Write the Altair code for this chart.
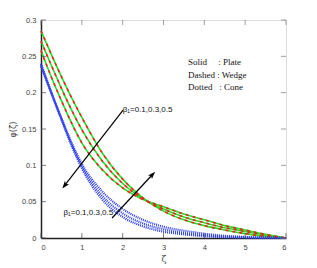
import altair as alt
import pandas as pd

# ---- data ----
zeta = [0, 0.25, 0.5, 0.75, 1, 1.5, 2, 2.5, 3, 3.5, 4, 4.5, 5, 5.5, 6]

plate_b01 = [0.285, 0.253, 0.222, 0.193, 0.166, 0.117, 0.081, 0.055, 0.037, 0.025, 0.017, 0.011, 0.006, 0.002, 0.0]
plate_b03 = [0.271, 0.238, 0.206, 0.176, 0.149, 0.106, 0.075, 0.054, 0.040, 0.029, 0.021, 0.014, 0.009, 0.004, 0.0]
plate_b05 = [0.258, 0.222, 0.189, 0.158, 0.131, 0.094, 0.069, 0.053, 0.043, 0.033, 0.025, 0.017, 0.011, 0.005, 0.0]

wedge_b01 = [0.285, 0.253, 0.222, 0.193, 0.166, 0.117, 0.081, 0.055, 0.037, 0.025, 0.017, 0.011, 0.006, 0.002, 0.0]
wedge_b03 = [0.271, 0.238, 0.206, 0.176, 0.149, 0.106, 0.075, 0.054, 0.040, 0.029, 0.021, 0.014, 0.009, 0.004, 0.0]
wedge_b05 = [0.258, 0.222, 0.189, 0.158, 0.131, 0.094, 0.069, 0.053, 0.043, 0.033, 0.025, 0.017, 0.011, 0.005, 0.0]

cone_b01 = [0.240, 0.201, 0.163, 0.127, 0.096, 0.053, 0.029, 0.016, 0.0087, 0.005, 0.0025, 0.001, 0.0005, 0.0001, 0.0]
cone_b03 = [0.238, 0.200, 0.164, 0.129, 0.099, 0.058, 0.034, 0.020, 0.012, 0.007, 0.004, 0.002, 0.001, 0.0003, 0.0]
cone_b05 = [0.236, 0.200, 0.165, 0.131, 0.102, 0.064, 0.040, 0.025, 0.0155, 0.010, 0.006, 0.003, 0.0015, 0.0005, 0.0]

x_ticks = [0, 1, 2, 3, 4, 5, 6]
y_ticks = [0, 0.05, 0.1, 0.15, 0.2, 0.25, 0.3]

NB = "\u00a0"
legend_lines = ["Solid" + NB * 5 + ": Plate", "Dashed : Wedge", "Dotted" + NB * 3 + ": Cone"]
beta_label = "β₁=0.1,0.3,0.5"

# annotation anchors (data coordinates)
arrow_x = [2.01, 1.74]
arrow_y = [0.176, 0.0275]
arrow_x2 = [0.59, 2.72]
arrow_y2 = [0.073, 0.0867]
arrow_angle = [218, 43]
label_x = [2.0, 0.55]
label_y = [0.176, 0.035]
legend_x = 3.6
legend_y = [0.242, 0.225, 0.208]

# ---- build tables ----
rows = []
for kind, series in [("Plate", [plate_b01, plate_b03, plate_b05]),
                     ("Wedge", [wedge_b01, wedge_b03, wedge_b05]),
                     ("Cone", [cone_b01, cone_b03, cone_b05])]:
    for b, vals in zip(["0.1", "0.3", "0.5"], series):
        for z, v in zip(zeta, vals):
            rows.append({"zeta": z, "phi": v, "kind": kind, "beta": b})
df = pd.DataFrame(rows)

W, H = 245, 218
xs = alt.Scale(domain=[0, 6], nice=False, zero=False)
ys = alt.Scale(domain=[0, 0.3], nice=False)

axis_font = "Liberation Sans"

x_axis = alt.Axis(values=x_ticks, title="ζ", ticks=False, labelPadding=5,
                  labelFontSize=7.5, labelColor="#444", labelFont=axis_font,
                  labelOverlap=False,
                  titleFont="DejaVu Serif", titleFontSize=9, titleFontWeight="normal",
                  titleColor="#444", titlePadding=4, domainColor="#222", domainWidth=1.5,
                  grid=False, format="~g")
y_axis = alt.Axis(values=y_ticks, title="φ(ζ)", ticks=False, labelPadding=5,
                  labelFontSize=7.5, labelColor="#444", labelFont=axis_font,
                  labelOverlap=False,
                  titleFont="DejaVu Sans", titleFontSize=8, titleFontWeight="normal",
                  titleColor="#444", titlePadding=4, domainColor="#222", domainWidth=1.5,
                  grid=False, format="~g")


def X(f):
    return alt.X(f, scale=xs, axis=x_axis)


def Y(f):
    return alt.Y(f, scale=ys, axis=y_axis)


base = alt.Chart(df)

plate = base.transform_filter(alt.datum.kind == "Plate").mark_line(
    color="#22e022", strokeWidth=1.6, interpolate="monotone"
).encode(x=X("zeta:Q"), y=Y("phi:Q"), detail="beta:N")

wedge = base.transform_filter(alt.datum.kind == "Wedge").mark_line(
    color="#ee2222", strokeWidth=1.6, strokeDash=[3, 4], interpolate="monotone"
).encode(x=X("zeta:Q"), y=Y("phi:Q"), detail="beta:N")

cone = base.transform_filter(alt.datum.kind == "Cone").mark_line(
    color="#2a3cf0", strokeWidth=2.2, strokeDash=[1, 1], interpolate="monotone"
).encode(x=X("zeta:Q"), y=Y("phi:Q"), detail="beta:N")

# inward ticks
xt = pd.DataFrame({"t": x_ticks})
yt = pd.DataFrame({"t": y_ticks})
xt_bottom = alt.Chart(xt).mark_tick(color="#444", size=5, thickness=1).encode(
    x=X("t:Q"), y=alt.value(H - 2.5))
xt_top = alt.Chart(xt).mark_tick(color="#777", size=5, thickness=1).encode(
    x=X("t:Q"), y=alt.value(2.5))
yt_left = alt.Chart(yt).mark_tick(color="#444", size=5, thickness=1, orient="horizontal").encode(
    y=Y("t:Q"), x=alt.value(2.5))
yt_right = alt.Chart(yt).mark_tick(color="#777", size=5, thickness=1, orient="horizontal").encode(
    y=Y("t:Q"), x=alt.value(W - 2.5))

# arrows
adf = pd.DataFrame({"x": arrow_x, "y": arrow_y, "x2": arrow_x2, "y2": arrow_y2, "ang": arrow_angle})
shafts = alt.Chart(adf).mark_rule(color="black", strokeWidth=1.2).encode(
    x=X("x:Q"), y=Y("y:Q"), x2="x2:Q", y2="y2:Q")
heads = alt.Chart(adf).mark_point(
    shape="M0,-1 L0.6,0.7 L0,0.3 L-0.6,0.7 Z", filled=True, color="black", size=80, opacity=1
).encode(x=X("x2:Q"), y=Y("y2:Q"), angle=alt.Angle("ang:Q", scale=None))

ldf = pd.DataFrame({"x": label_x, "y": label_y, "t": [beta_label, beta_label]})
labels = alt.Chart(ldf).mark_text(align="left", baseline="middle", fontSize=8,
                                  font=axis_font, color="#111").encode(
    x=X("x:Q"), y=Y("y:Q"), text="t:N")

gdf = pd.DataFrame({"x": [legend_x] * 3, "y": legend_y, "t": legend_lines})
legend = alt.Chart(gdf).mark_text(align="left", baseline="middle", fontSize=9,
                                  font="Liberation Serif", color="#111").encode(
    x=X("x:Q"), y=Y("y:Q"), text="t:N")

chart = alt.layer(plate, wedge, cone, xt_bottom, xt_top, yt_left, yt_right,
                  shafts, heads, labels, legend).properties(
    width=W, height=H, autosize=alt.AutoSizeParams(type="none"),
    padding={"left": 33, "top": 12, "right": 20, "bottom": 30}
).configure_view(stroke="#666", strokeWidth=1.5).configure(background="white")

chart.save("out.html", embed_options={"renderer": "svg", "actions": False})
